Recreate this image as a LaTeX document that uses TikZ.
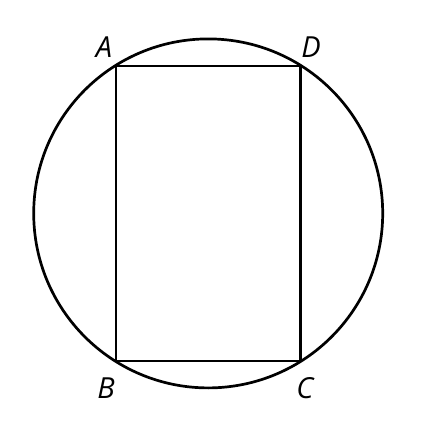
\documentclass[tikz,border=0pt]{standalone}
\usepackage{fontspec}
\setmainfont{Open Sans}
\usetikzlibrary{positioning}

\begin{document}
\begin{tikzpicture} [x=1pt, y=-1pt, node distance = 10pt]
            \tikzstyle{corner}=[inner sep=0pt, minimum size=0pt]
            \tikzstyle{letter}=[inner sep=0pt, font=\fontsize{29}{29}\selectfont\itshape]
            \useasboundingbox (0,0) rectangle (445,444);
            \coordinate     (O)     at (208.2,213.4);
            \node[corner]   (A)     at (116,66)     {};
            \node[corner]   (D)     at (300.5,66)   {};
            \node[corner]   (B)     at (116,361)    {};
            \node[corner]   (C)     at (300.5,361)  {};
            
            \node[letter]   (lA)    at (104,47)     {A};
            \node[letter]   (lD)    at (311,47)     {D};
            \node[letter]   (lB)    at (106,388)    {B};
            \node[letter]   (lC)    at (305,388)    {C};
            
            \draw[line width=2.7pt] (O) circle (174.5);
            \draw[line width=2.9pt, line join=miter] (A.center) -- (D.center) -- (C.center) -- (B.center) -- cycle;
        \end{tikzpicture}
\end{document}
